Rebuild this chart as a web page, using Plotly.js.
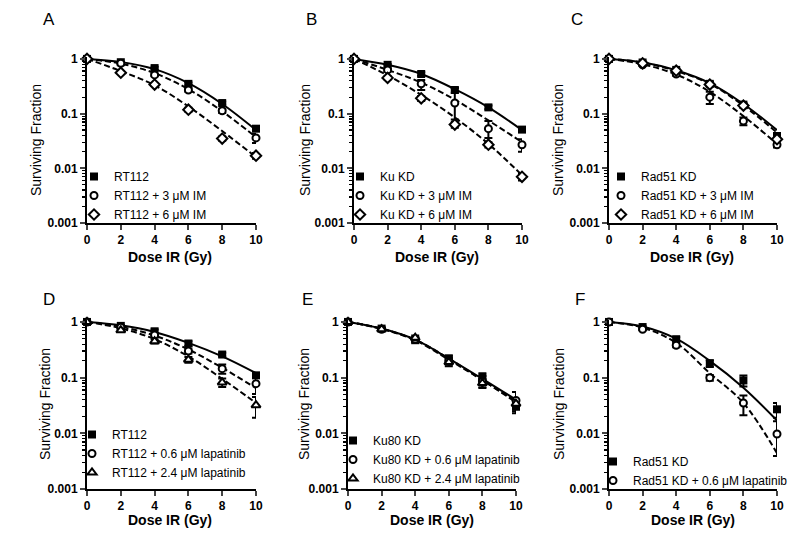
<!DOCTYPE html>
<html>
<head>
<meta charset="utf-8">
<script src="https://cdn.plot.ly/plotly-3.0.1.min.js"></script>
<style>
  html, body { margin: 0; padding: 0; background: #fff; }
  #chart { width: 800px; height: 544px; }
</style>
</head>
<body>
<div id="chart"></div>
<script>
const dose = [0, 2, 4, 6, 8, 10];

// A - RT112 + imatinib
const sfA_ctrl = [1, 0.87, 0.68, 0.35, 0.156, 0.053];
const sfA_im3  = [1, 0.83, 0.51, 0.27, 0.113, 0.036];
const sfA_im6  = [1, 0.56, 0.34, 0.118, 0.035, 0.017];
const errA_ctrl = [0, 0.02, 0.04, 0.02, 0.01, 0.004];
const errA_im3  = [0, 0.03, 0.03, 0.02, 0.01, 0.007];
const errA_im6  = [0, 0.02, 0.02, 0.01, 0.003, 0.002];
const fitA_ctrl = [1, 0.88, 0.65, 0.36, 0.15, 0.05];
const fitA_im3  = [1, 0.82, 0.55, 0.28, 0.11, 0.037];
const fitA_im6  = [1, 0.6, 0.33, 0.135, 0.048, 0.016];

// B - Ku KD + imatinib
const sfB_ctrl = [1, 0.78, 0.53, 0.27, 0.13, 0.051];
const sfB_im3  = [1, 0.63, 0.35, 0.156, 0.053, 0.027];
const sfB_im6  = [1, 0.45, 0.19, 0.063, 0.027, 0.007];
const errB_ctrl = [0, 0.03, 0.04, 0.03, 0.01, 0.004];
const errB_im3  = [0, 0.04, 0.06, 0.134, 0.02, 0.007];
const errB_im3_dn = [0, 0.04, 0.08, 0.078, 0.017, 0.007];
const errB_im6  = [0, 0.03, 0.02, 0.008, 0.003, 0.001];
const fitB_ctrl = [1, 0.78, 0.53, 0.28, 0.13, 0.05];
const fitB_im3  = [1, 0.63, 0.37, 0.18, 0.075, 0.03];
const fitB_im6  = [1, 0.5, 0.22, 0.085, 0.028, 0.0075];

// C - Rad51 KD + imatinib
const sfC_ctrl = [1, 0.86, 0.63, 0.35, 0.146, 0.039];
const sfC_im3  = [1, 0.78, 0.53, 0.2, 0.073, 0.027];
const sfC_im6  = [1, 0.83, 0.61, 0.34, 0.14, 0.034];
const errC_ctrl = [0, 0.03, 0.04, 0.03, 0.01, 0.004];
const errC_im3  = [0, 0.03, 0.04, 0.05, 0.012, 0.003];
const errC_im6  = [0, 0.03, 0.03, 0.02, 0.01, 0.003];
const fitC_ctrl = [1, 0.87, 0.62, 0.36, 0.15, 0.05];
const fitC_im3  = [1, 0.8, 0.52, 0.25, 0.09, 0.028];
const fitC_im6  = [1, 0.86, 0.6, 0.35, 0.14, 0.045];

// D - RT112 + lapatinib
const sfD_ctrl = [1, 0.85, 0.68, 0.41, 0.26, 0.11];
const sfD_lap06 = [1, 0.8, 0.58, 0.3, 0.145, 0.078];
const sfD_lap24 = [1, 0.71, 0.45, 0.21, 0.082, 0.032];
const errD_ctrl = [0, 0.03, 0.05, 0.04, 0.02, 0.01];
const errD_lap06 = [0, 0.04, 0.04, 0.03, 0.027, 0.027];
const errD_lap24 = [0, 0.04, 0.04, 0.025, 0.014, 0.013];
const fitD_ctrl = [1, 0.87, 0.66, 0.42, 0.24, 0.12];
const fitD_lap06 = [1, 0.82, 0.57, 0.32, 0.15, 0.065];
const fitD_lap24 = [1, 0.77, 0.49, 0.24, 0.095, 0.035];

// E - Ku80 KD + lapatinib
const sfE_ctrl = [1, 0.76, 0.47, 0.22, 0.1, 0.03];
const sfE_lap06 = [1, 0.74, 0.49, 0.2, 0.087, 0.039];
const sfE_lap24 = [1, 0.74, 0.52, 0.19, 0.08, 0.034];
const errE_ctrl = [0, 0.04, 0.04, 0.03, 0.02, 0.005];
const errE_lap06 = [0, 0.04, 0.04, 0.03, 0.02, 0.016];
const errE_lap24 = [0, 0.04, 0.05, 0.03, 0.015, 0.006];
const fitE_ctrl = [1, 0.76, 0.48, 0.22, 0.095, 0.04];
const fitE_lap06 = [1, 0.75, 0.47, 0.21, 0.09, 0.036];
const fitE_lap24 = [1, 0.76, 0.48, 0.22, 0.09, 0.038];

// F - Rad51 KD + lapatinib
const sfF_ctrl = [1, 0.81, 0.49, 0.18, 0.089, 0.027];
const sfF_lap06 = [1, 0.74, 0.38, 0.1, 0.035, 0.0097];
const errF_ctrl = [0, 0.03, 0.04, 0.025, 0.02, 0.008];
const errF_lap06 = [0, 0.03, 0.03, 0.012, 0.013, 0.0068];
const errF_lap06_dn = [0, 0.03, 0.03, 0.012, 0.014, 0.0058];
const fitF_ctrl = [1, 0.83, 0.5, 0.2, 0.066, 0.017];
const fitF_lap06 = [1, 0.79, 0.42, 0.12, 0.035, 0.0044];

const panels = [
  { letter: 'A', ax: '', x0: 87, x1: 256, row: 0, legX: 74, legY: 162,
    series: [
      { name: 'RT112', sf: sfA_ctrl, err: errA_ctrl, fit: fitA_ctrl, sym: 'square', dash: 'solid' },
      { name: 'RT112 + 3 μM IM', sf: sfA_im3, err: errA_im3, fit: fitA_im3, sym: 'circle', dash: 'dash' },
      { name: 'RT112 + 6 μM IM', sf: sfA_im6, err: errA_im6, fit: fitA_im6, sym: 'diamond', dash: 'dash' }
    ] },
  { letter: 'B', ax: '2', x0: 354, x1: 522, row: 0, legX: 340, legY: 162,
    series: [
      { name: 'Ku KD', sf: sfB_ctrl, err: errB_ctrl, fit: fitB_ctrl, sym: 'square', dash: 'solid' },
      { name: 'Ku KD + 3 μM IM', sf: sfB_im3, err: errB_im3, errDn: errB_im3_dn, fit: fitB_im3, sym: 'circle', dash: 'dash' },
      { name: 'Ku KD + 6 μM IM', sf: sfB_im6, err: errB_im6, fit: fitB_im6, sym: 'diamond', dash: 'dash' }
    ] },
  { letter: 'C', ax: '3', x0: 609, x1: 777, row: 0, legX: 601, legY: 162,
    series: [
      { name: 'Rad51 KD', sf: sfC_ctrl, err: errC_ctrl, fit: fitC_ctrl, sym: 'square', dash: 'solid' },
      { name: 'Rad51 KD + 3 μM IM', sf: sfC_im3, err: errC_im3, fit: fitC_im3, sym: 'circle', dash: 'dash' },
      { name: 'Rad51 KD + 6 μM IM', sf: sfC_im6, err: errC_im6, fit: fitC_im6, sym: 'diamond', dash: 'dash' }
    ] },
  { letter: 'D', ax: '4', x0: 87, x1: 256, row: 1, legX: 72, legY: 420,
    series: [
      { name: 'RT112', sf: sfD_ctrl, err: errD_ctrl, fit: fitD_ctrl, sym: 'square', dash: 'solid' },
      { name: 'RT112 + 0.6 μM lapatinib', sf: sfD_lap06, err: errD_lap06, fit: fitD_lap06, sym: 'circle', dash: 'dash' },
      { name: 'RT112 + 2.4 μM lapatinib', sf: sfD_lap24, err: errD_lap24, fit: fitD_lap24, sym: 'triangle-up', dash: 'dash' }
    ] },
  { letter: 'E', ax: '5', x0: 348, x1: 516, row: 1, legX: 333, legY: 426,
    series: [
      { name: 'Ku80 KD', sf: sfE_ctrl, err: errE_ctrl, fit: fitE_ctrl, sym: 'square', dash: 'solid' },
      { name: 'Ku80 KD + 0.6 μM lapatinib', sf: sfE_lap06, err: errE_lap06, fit: fitE_lap06, sym: 'circle', dash: 'dash' },
      { name: 'Ku80 KD + 2.4 μM lapatinib', sf: sfE_lap24, err: errE_lap24, fit: fitE_lap24, sym: 'triangle-up', dash: 'dash' }
    ] },
  { letter: 'F', ax: '6', x0: 609, x1: 777, row: 1, legX: 593, legY: 447,
    series: [
      { name: 'Rad51 KD', sf: sfF_ctrl, err: errF_ctrl, fit: fitF_ctrl, sym: 'square', dash: 'solid' },
      { name: 'Rad51 KD + 0.6 μM lapatinib', sf: sfF_lap06, err: errF_lap06, errDn: errF_lap06_dn, fit: fitF_lap06, sym: 'circle', dash: 'dash' }
    ] }
];

const W = 800, H = 544;
const FONT = 'Liberation Sans, Arial, sans-serif';
// pixel rows: [top of axis, bottom (0.001)]
const rows = [[57, 223], [320, 489]];
// per row: y-title centre, x-title centre, letter centre
const titleY = [[140, 257, 20], [404, 520, 299]];
const yTitleX = [36, 305, 558, 45, 304, 559];
const xTitleX = [170, 437, 692, 170, 432, 693];
const letterX = [49, 311, 577, 49, 307, 580];

const minorVals = [];
[0.001, 0.01, 0.1].forEach(d => { for (let k = 2; k <= 9; k++) minorVals.push(d * k); });

const markerSize = { 'square': 8, 'circle': 7, 'diamond': 8, 'triangle-up': 8 };

const traces = [];
const layout = {
  width: W, height: H,
  margin: { l: 0, r: 0, t: 0, b: 0 },
  paper_bgcolor: '#fff', plot_bgcolor: '#fff',
  font: { family: FONT, color: '#000' },
  showlegend: true,
  annotations: []
};

panels.forEach((p, i) => {
  const xa = 'x' + p.ax, ya = 'y' + p.ax;
  const legName = i === 0 ? 'legend' : 'legend' + (i + 1);
  const r = rows[p.row];

  p.series.forEach(s => {
    traces.push({
      x: dose, y: s.fit, xaxis: xa, yaxis: ya, type: 'scatter', mode: 'lines',
      line: { color: '#000', width: 2, dash: s.dash === 'solid' ? 'solid' : '6px,3px', shape: 'spline', smoothing: 1 },
      showlegend: false, hoverinfo: 'skip', cliponaxis: false
    });
  });
  p.series.forEach(s => {
    const err = { type: 'data', array: s.err, color: '#000', thickness: 2, width: 4 };
    if (s.errDn) { err.symmetric = false; err.arrayminus = s.errDn; }
    traces.push({
      x: dose, y: s.sf, xaxis: xa, yaxis: ya, type: 'scatter', mode: 'markers',
      name: s.name, legend: legName, cliponaxis: false,
      marker: { symbol: s.sym, size: markerSize[s.sym], color: s.sym === 'square' ? '#000' : '#fff',
                line: { color: '#000', width: s.sym === 'square' ? 0 : 2 } },
      error_y: err
    });
  });

  layout['xaxis' + p.ax] = {
    domain: [p.x0 / W, p.x1 / W], anchor: ya, range: [0, 10],
    tickvals: [0, 2, 4, 6, 8, 10], ticks: 'outside', ticklen: 5, tickwidth: 2,
    showline: true, linewidth: 2, linecolor: '#000', showgrid: false, zeroline: false,
    tickfont: { family: FONT, size: 12, weight: 'bold' }
  };
  layout['yaxis' + p.ax] = {
    domain: [1 - r[1] / H, 1 - r[0] / H], anchor: xa, type: 'log', range: [-3, 0.035],
    tickvals: [0.001, 0.01, 0.1, 1], ticktext: ['0.001', '0.01', '0.1', '1'],
    ticks: 'outside', ticklen: 5, tickwidth: 2,
    minor: { tickvals: minorVals, ticks: 'outside', ticklen: 3, tickwidth: 1.2, tickcolor: '#000', showgrid: false },
    showline: true, linewidth: 2, linecolor: '#000', showgrid: false, zeroline: false,
    tickfont: { family: FONT, size: 12, weight: 'bold' }
  };
  layout[legName] = {
    x: p.legX / W, y: 1 - p.legY / H, xanchor: 'left', yanchor: 'top',
    bgcolor: 'rgba(0,0,0,0)', borderwidth: 0, tracegroupgap: 0,
    font: { family: FONT, size: 12, color: '#000' }
  };

  const ty = titleY[p.row];
  layout.annotations.push(
    { text: p.letter, xref: 'paper', yref: 'paper', x: letterX[i] / W, y: 1 - ty[2] / H,
      xanchor: 'center', yanchor: 'middle', showarrow: false, font: { family: FONT, size: 17 } },
    { text: 'Surviving Fraction', xref: 'paper', yref: 'paper', x: yTitleX[i] / W, y: 1 - ty[0] / H,
      xanchor: 'center', yanchor: 'middle', textangle: -90, showarrow: false, font: { family: FONT, size: 14 } },
    { text: 'Dose IR (Gy)', xref: 'paper', yref: 'paper', x: xTitleX[i] / W, y: 1 - ty[1] / H,
      xanchor: 'center', yanchor: 'middle', showarrow: false, font: { family: FONT, size: 14, weight: 'bold' } }
  );
});

Plotly.newPlot('chart', traces, layout, { displayModeBar: false, staticPlot: true });
</script>
</body>
</html>
